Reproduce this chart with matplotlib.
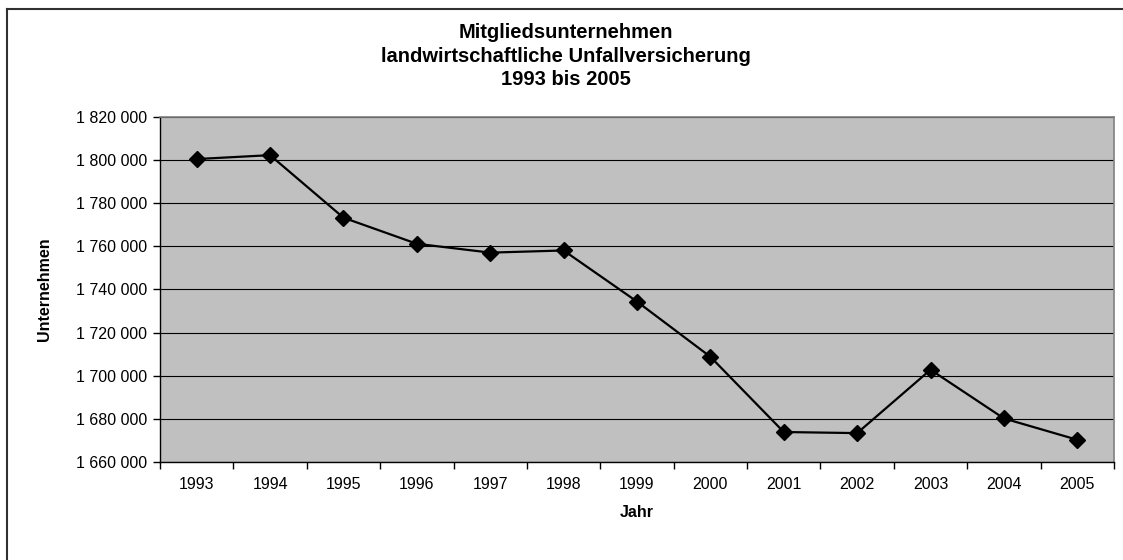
import matplotlib
matplotlib.use("Agg")
import matplotlib.pyplot as plt
from matplotlib.ticker import FuncFormatter

plt.rcParams['font.family'] = ['Liberation Sans', 'DejaVu Sans']

# --- data ---
years = ["1993", "1994", "1995", "1996", "1997", "1998", "1999",
         "2000", "2001", "2002", "2003", "2004", "2005"]
members = [1800500, 1802300, 1773300, 1761200, 1757100, 1758100, 1734400,
           1708800, 1673900, 1673400, 1702800, 1680200, 1670300]
y_ticks = list(range(1660000, 1820001, 20000))

title = "Mitgliedsunternehmen\nlandwirtschaftliche Unfallversicherung\n1993 bis 2005"


def de_thousands(v, pos=None):
    return f"{int(v):,}".replace(",", " ")


fig = plt.figure(figsize=(11.23, 5.6), dpi=100)
ax = fig.add_axes([160 / 1123, 98 / 560, 954 / 1123, 345 / 560])

ax.set_facecolor("#c0c0c0")
x = list(range(len(years)))
ax.plot(x, members, color="black", lw=1.6, marker="D", ms=8.5,
        mfc="black", mec="black", zorder=3)

ax.set_xlim(-0.5, len(years) - 0.5)
ax.set_ylim(y_ticks[0], y_ticks[-1])
ax.set_yticks(y_ticks)
ax.yaxis.set_major_formatter(FuncFormatter(de_thousands))
ax.yaxis.grid(True, color="black", lw=0.8)
ax.set_axisbelow(True)

# category axis: ticks sit between the years
ax.set_xticks([i - 0.5 for i in range(len(years) + 1)])
ax.set_xticklabels([])
ax.set_xticks(x, minor=True)
ax.set_xticklabels(years, minor=True)
ax.tick_params(axis="x", which="minor", length=0, pad=11, labelsize=11.5)
ax.tick_params(axis="x", which="major", length=5, color="black", width=1)
ax.tick_params(axis="y", length=5, color="black", width=1, labelsize=11.5, pad=4)

for side in ["top", "right"]:
    ax.spines[side].set_color("#808080")
    ax.spines[side].set_linewidth(1.2)
for side in ["left", "bottom"]:
    ax.spines[side].set_color("black")
    ax.spines[side].set_linewidth(1.0)

ax.set_xlabel("Jahr", fontsize=11.5, fontweight="bold", labelpad=9)
fig.text(45 / 1123, 1 - 289 / 560, "Unternehmen", rotation=90, fontsize=11.5,
         fontweight="bold", ha="center", va="center")

fig.text(566 / 1123, 1 - 56 / 560, title, ha="center", va="center", fontsize=14.5,
         fontweight="bold", linespacing=1.3)

# outer chart frame (only left/top visible in the reference)
fig.add_artist(plt.Line2D([7 / 1123, 7 / 1123], [0, 1 - 9 / 560],
                          transform=fig.transFigure, color="#303030", lw=1.5))
fig.add_artist(plt.Line2D([7 / 1123, 1], [1 - 9 / 560, 1 - 9 / 560],
                          transform=fig.transFigure, color="#303030", lw=1.5))

fig.savefig("out.png", dpi=100)
